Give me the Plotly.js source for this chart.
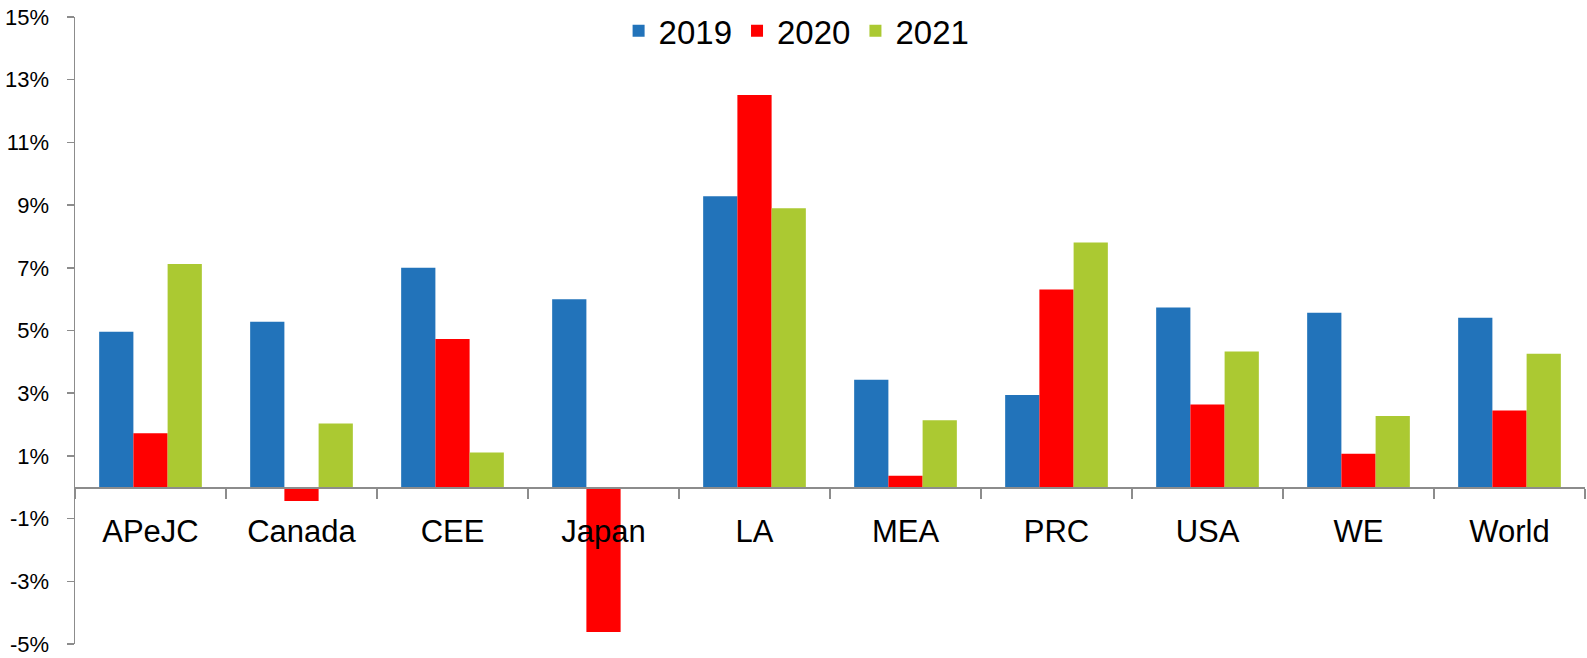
<!DOCTYPE html>
<html>
<head>
<meta charset="utf-8">
<script src="https://cdn.plot.ly/plotly-3.0.1.min.js"></script>
<style>html,body{margin:0;padding:0;background:#fff;}#chart{width:1587px;height:658px;}</style>
</head>
<body>
<div id="chart"></div>
<script>
const categories = ["APeJC", "Canada", "CEE", "Japan", "LA", "MEA", "PRC", "USA", "WE", "World"];
const values2019 = [4.96, 5.28, 7.0, 6.0, 9.28, 3.43, 2.94, 5.73, 5.57, 5.41];
const values2020 = [1.72, -0.44, 4.73, -4.62, 12.51, 0.37, 6.31, 2.64, 1.07, 2.45];
const values2021 = [7.12, 2.03, 1.11, -0.05, 8.9, 2.14, 7.81, 4.33, 2.27, 4.26];
const seriesNames = ["2019", "2020", "2021"];
const seriesColors = ["#2273BA", "#FF0000", "#ABC932"];
const yTickValues = [-5, -3, -1, 1, 3, 5, 7, 9, 11, 13, 15];
const yTickLabels = ["-5%", "-3%", "-1%", "1%", "3%", "5%", "7%", "9%", "11%", "13%", "15%"];

const allValues = [values2019, values2020, values2021];
const traces = allValues.map((vals, i) => ({
  type: "bar",
  name: seriesNames[i],
  x: categories,
  y: vals,
  marker: {color: seriesColors[i]},
  hoverinfo: "x+y+name"
}));

const layout = {
  width: 1587,
  height: 658,
  margin: {l: 75, r: 2, t: 17, b: 14},
  paper_bgcolor: "#ffffff",
  plot_bgcolor: "#ffffff",
  font: {family: "Liberation Sans, Arial, sans-serif", color: "#000000"},
  barmode: "group",
  bargap: 0.32,
  bargroupgap: 0,
  showlegend: true,
  legend: {
    orientation: "h",
    x: 0.36, xanchor: "left",
    y: 0.978, yanchor: "middle",
    font: {size: 33, color: "#000"},
    bgcolor: "rgba(255,255,255,0)",
    itemwidth: 30,
    traceorder: "normal"
  },
  xaxis: {
    type: "category",
    anchor: "free",
    position: 0.25,
    range: [-0.5, 9.5],
    showline: true,
    linecolor: "#8c8c8c",
    linewidth: 1.5,
    ticks: "outside",
    tickson: "boundaries",
    ticklen: 10,
    tickwidth: 1.5,
    tickcolor: "#8c8c8c",
    ticklabelstandoff: 16,
    tickfont: {size: 31, color: "#000"},
    showgrid: false,
    zeroline: false,
    fixedrange: true
  },
  yaxis: {
    range: [-5, 15],
    tickmode: "array",
    tickvals: yTickValues,
    ticktext: yTickLabels,
    ticklabeloverflow: "allow",
    showline: true,
    linecolor: "#8c8c8c",
    linewidth: 1.5,
    ticks: "outside",
    ticklen: 7,
    tickwidth: 1.5,
    tickcolor: "#8c8c8c",
    ticklabelstandoff: 13,
    tickfont: {size: 22, color: "#000"},
    showgrid: false,
    zeroline: false,
    fixedrange: true
  }
};

Plotly.newPlot("chart", traces, layout, {displayModeBar: false, staticPlot: true});
</script>
</body>
</html>
